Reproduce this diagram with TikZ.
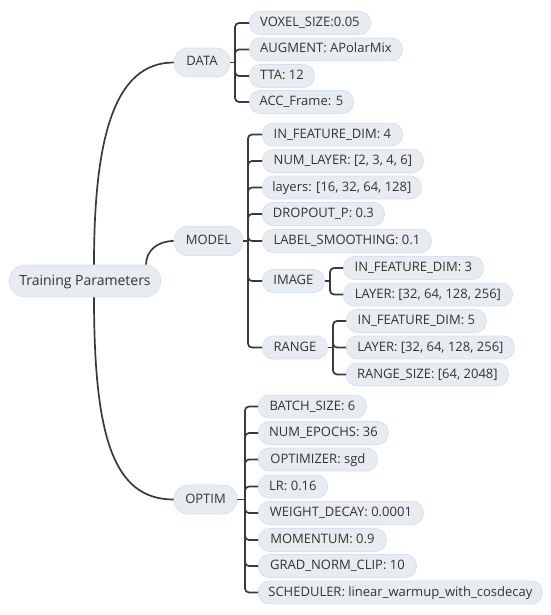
\documentclass[tikz,border=0pt]{standalone}
\usepackage{fontspec}
\setmainfont{Open Sans}
\usetikzlibrary{positioning}

\definecolor{boxfill}{HTML}{E8ECF1}
\definecolor{boxline}{HTML}{D2E2F4}
\definecolor{linkgray}{HTML}{3A3A3A}
\definecolor{textgray}{HTML}{333333}

\begin{document}
\begin{tikzpicture}[
        x=1pt, y=-1pt,
        topic/.style={rectangle, rounded corners=11pt, draw=boxline, fill=boxfill, line width=0.8pt, text=textgray,
            inner xsep=10pt, inner ysep=5pt, text height=10pt, text depth=3pt, font=\fontsize{13}{15}\selectfont},
        leaf/.style={topic, anchor=west, minimum width=#1},
        leaf/.default=0pt,
        main/.style={topic, inner ysep=8pt, rounded corners=14pt},
        root/.style={topic, rounded corners=16pt, inner ysep=8.5pt, text height=11.5pt, text depth=3.5pt,
            minimum width=148pt, font=\fontsize{14}{17}\selectfont},
        link/.style={draw=linkgray, line width=1.7pt},
        branch/.style={link, rounded corners=4pt},
    ]
        \useasboundingbox (0,0) rectangle (550,615);

        % Root and main topics
        \node[root] (root) at (85,281) {Training Parameters};
        \node[main, minimum width=56pt] (data) at (202,62.5) {DATA};
        \node[main, minimum width=69pt] (model) at (208.5,241) {MODEL};
        \node[main, minimum width=63pt] (optim) at (205.5,499.5) {OPTIM};

        % DATA
        \node[leaf=121pt] (voxel) at (249,23) {VOXEL\_SIZE:0.05};
        \node[leaf=153pt] (augment) at (249,49.5) {AUGMENT: APolarMix};
        \node[leaf=65pt] (tta) at (249,76) {TTA: 12};
        \node[leaf=104pt] (acc) at (249,102) {ACC\_Frame: 5};

        % MODEL
        \node[leaf=140pt] (infeat) at (262,134.5) {IN\_FEATURE\_DIM: 4};
        \node[leaf=161pt] (numlayer) at (262,161) {NUM\_LAYER: [2, 3, 4, 6]};
        \node[leaf=158pt] (layers) at (262,187.5) {layers: [16, 32, 64, 128]};
        \node[leaf=122pt] (dropout) at (262,214) {DROPOUT\_P: 0.3};
        \node[leaf=169pt] (smooth) at (262,241) {LABEL\_SMOOTHING: 0.1};
        \node[leaf=62pt] (image) at (262,281) {IMAGE};
        \node[leaf=65pt] (range) at (262,347.5) {RANGE};

        \node[leaf=140pt] (imgfeat) at (343,268) {IN\_FEATURE\_DIM: 3};
        \node[leaf=169pt] (imglayer) at (343,294.5) {LAYER: [32, 64, 128, 256]};

        \node[leaf=140pt] (rngfeat) at (346,321) {IN\_FEATURE\_DIM: 5};
        \node[leaf=168pt] (rnglayer) at (346,347.5) {LAYER: [32, 64, 128, 256]};
        \node[leaf=162pt] (rngsize) at (346,374.5) {RANGE\_SIZE: [64, 2048]};

        % OPTIM
        \node[leaf=108pt] (batch) at (258,406.5) {BATCH\_SIZE: 6};
        \node[leaf=130pt] (epochs) at (258,433) {NUM\_EPOCHS: 36};
        \node[leaf=119pt] (optimizer) at (258,459.5) {OPTIMIZER: sgd};
        \node[leaf=69pt] (lr) at (258,486.5) {LR: 0.16};
        \node[leaf=165pt] (decay) at (258,513) {WEIGHT\_DECAY: 0.0001};
        \node[leaf=128pt] (momentum) at (258,540) {MOMENTUM: 0.9};
        \node[leaf=158pt] (clip) at (258,566) {GRAD\_NORM\_CLIP: 10};
        \node[leaf=282pt] (sched) at (258,592.5) {SCHEDULER: linear\_warmup\_with\_cosdecay};

        % Curves from root
        \draw[link] ([xshift=9pt]root.north) .. controls +(0,-125) and +(-60,0) .. (data.west);
        \draw[link] ([xshift=-15pt]root.north east) .. controls +(0,-14) and +(-16,0) .. (model.west);
        \draw[link] ([xshift=9pt]root.south) .. controls +(0,140) and +(-60,0) .. (optim.west);

        % Brackets
        \coordinate (databar) at ([xshift=-14pt]voxel.west |- data.east);
        \draw[link] (data.east) -- (databar);
        \foreach \c in {voxel,augment,tta,acc}
            \draw[branch] (databar) |- (\c.west);

        \coordinate (modelbar) at ([xshift=-14pt]infeat.west |- model.east);
        \draw[link] (model.east) -- (modelbar);
        \foreach \c in {infeat,numlayer,layers,dropout,smooth,image,range}
            \draw[branch] (modelbar) |- (\c.west);

        \coordinate (imagebar) at ([xshift=-13pt]imgfeat.west |- image.east);
        \draw[link] (image.east) -- (imagebar);
        \foreach \c in {imgfeat,imglayer}
            \draw[branch] (imagebar) |- (\c.west);

        \coordinate (rangebar) at ([xshift=-13pt]rngfeat.west |- range.east);
        \draw[link] (range.east) -- (rangebar);
        \foreach \c in {rngfeat,rnglayer,rngsize}
            \draw[branch] (rangebar) |- (\c.west);

        \coordinate (optimbar) at ([xshift=-13pt]batch.west |- optim.east);
        \draw[link] (optim.east) -- (optimbar);
        \foreach \c in {batch,epochs,optimizer,lr,decay,momentum,clip,sched}
            \draw[branch] (optimbar) |- (\c.west);

    \end{tikzpicture}
\end{document}
